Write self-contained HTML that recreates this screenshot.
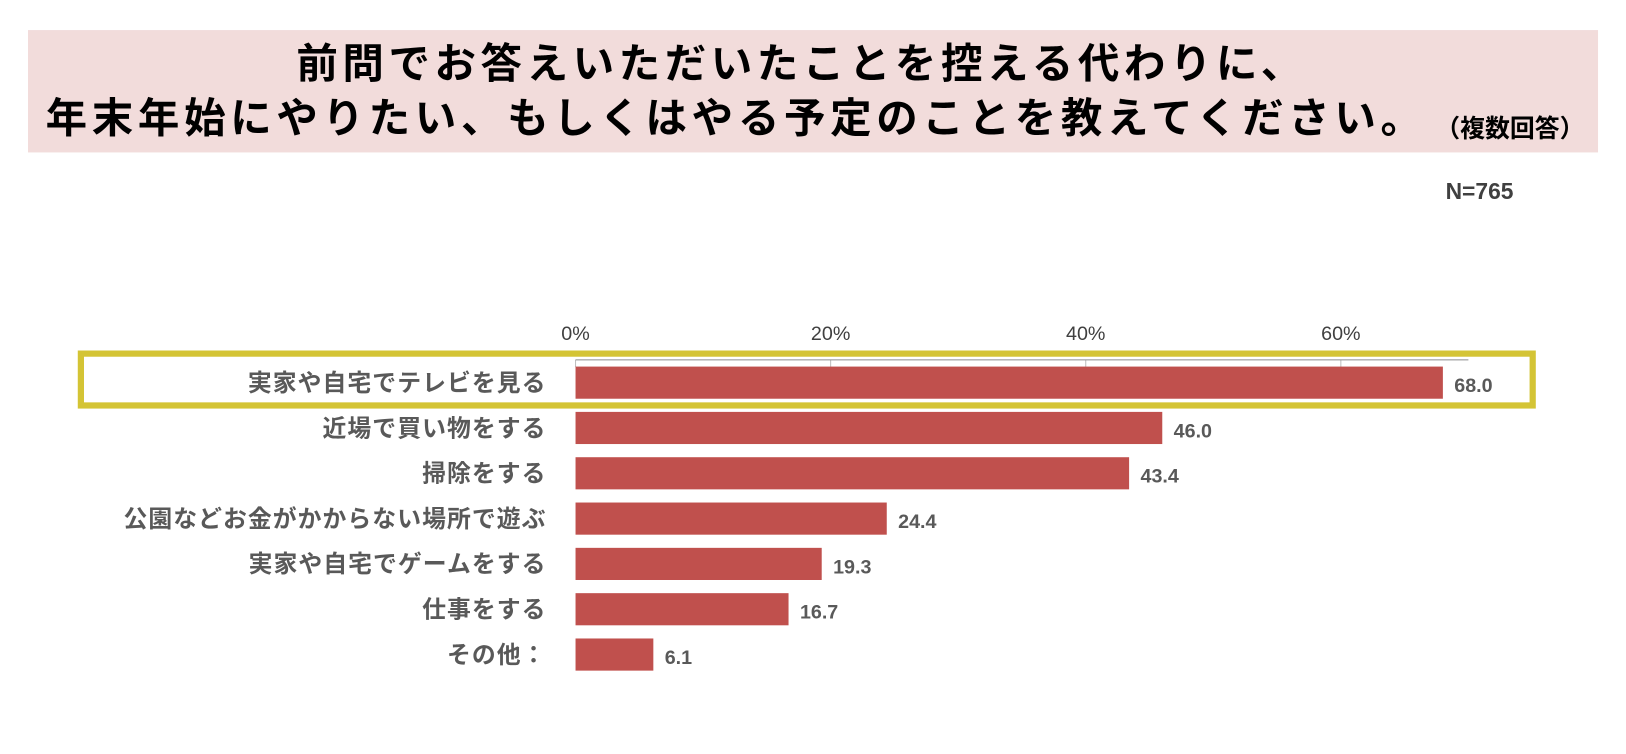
<!DOCTYPE html>
<html><head><meta charset="utf-8"><style>
body{margin:0;background:#fff;width:1626px;height:754px;overflow:hidden;position:relative;font-family:"Liberation Sans","Noto Sans CJK JP",sans-serif;}
#wrap{position:absolute;left:0;top:0;width:1568px;height:727px;transform:scale(1.037);transform-origin:0 0;}
.t{position:absolute;white-space:nowrap;}
</style></head><body>
<div id="wrap">
<div style="position:absolute;left:27px;top:29px;width:1514px;height:118px;background:#f2dcdb;"></div>
<div class="t" style="left:0;width:1546px;text-align:center;top:38px;font-size:40px;font-weight:bold;letter-spacing:4.4px;color:#000;line-height:48px;">前問でお答えいただいたことを控える代わりに、</div>
<div class="t" style="left:44px;top:91px;font-size:40px;font-weight:bold;letter-spacing:4.5px;color:#000;line-height:48px;">年末年始にやりたい、もしくはやる予定のことを教えてください。</div>
<div class="t" style="left:1384px;top:104px;font-size:24px;font-weight:bold;color:#000;">（複数回答）</div>
<div class="t" style="left:1394px;top:172px;font-size:22px;font-weight:bold;color:#404040;">N=765</div>
<div style="position:absolute;left:75px;top:338px;width:1394px;height:44px;border:6px solid #d4c435;"></div>
<svg id="chart" width="1568" height="727" style="position:absolute;left:0;top:0;"></svg>
</div>
<script>
const categories=["実家や自宅でテレビを見る","近場で買い物をする","掃除をする","公園などお金がかからない場所で遊ぶ","実家や自宅でゲームをする","仕事をする","その他："];
const values=[68.0,46.0,43.4,24.4,19.3,16.7,6.1];
const ticks=[0,20,40,60];
const svg=document.getElementById('chart');
const NS='http://www.w3.org/2000/svg';
const x0=555,pxPer=12.3,y0=369,pitch=43.7,bh=31;
const xs=v=>x0+v*pxPer;
const ys=i=>y0+i*pitch;
function mk(t,a){const e=document.createElementNS(NS,t);for(const k in a)e.setAttribute(k,a[k]);svg.appendChild(e);return e;}
ticks.forEach(t=>{
  const tl=mk('text',{x:xs(t),y:328,'text-anchor':'middle','font-size':19,fill:'#404040'});
  tl.textContent=t+'%';
  
  
  const g=mk('line',{x1:xs(t),x2:xs(t),y1:347,y2:354,stroke:'#bfbfbf','stroke-width':1});
  
  
});
const ax=mk('line',{x1:xs(0),x2:xs(70),y1:347,y2:347,stroke:'#8c8c8c','stroke-width':1});


categories.forEach((c,i)=>{
  const cy=ys(i);
  const r=mk('rect',{x:xs(0),y:cy-bh/2,width:xs(values[i])-xs(0),height:bh,fill:'#c0504d'});
  
  
  const l=mk('text',{x:527,y:cy+8,'text-anchor':'end','font-size':23,'font-weight':'bold',fill:'#595959','letter-spacing':1});
  l.textContent=c;
  
  
  const v=mk('text',{x:xs(values[i])+11,y:cy+9,'font-size':19,'font-weight':'bold',fill:'#595959'});
  v.textContent=values[i].toFixed(1);
  
  
});
</script>
</body></html>
